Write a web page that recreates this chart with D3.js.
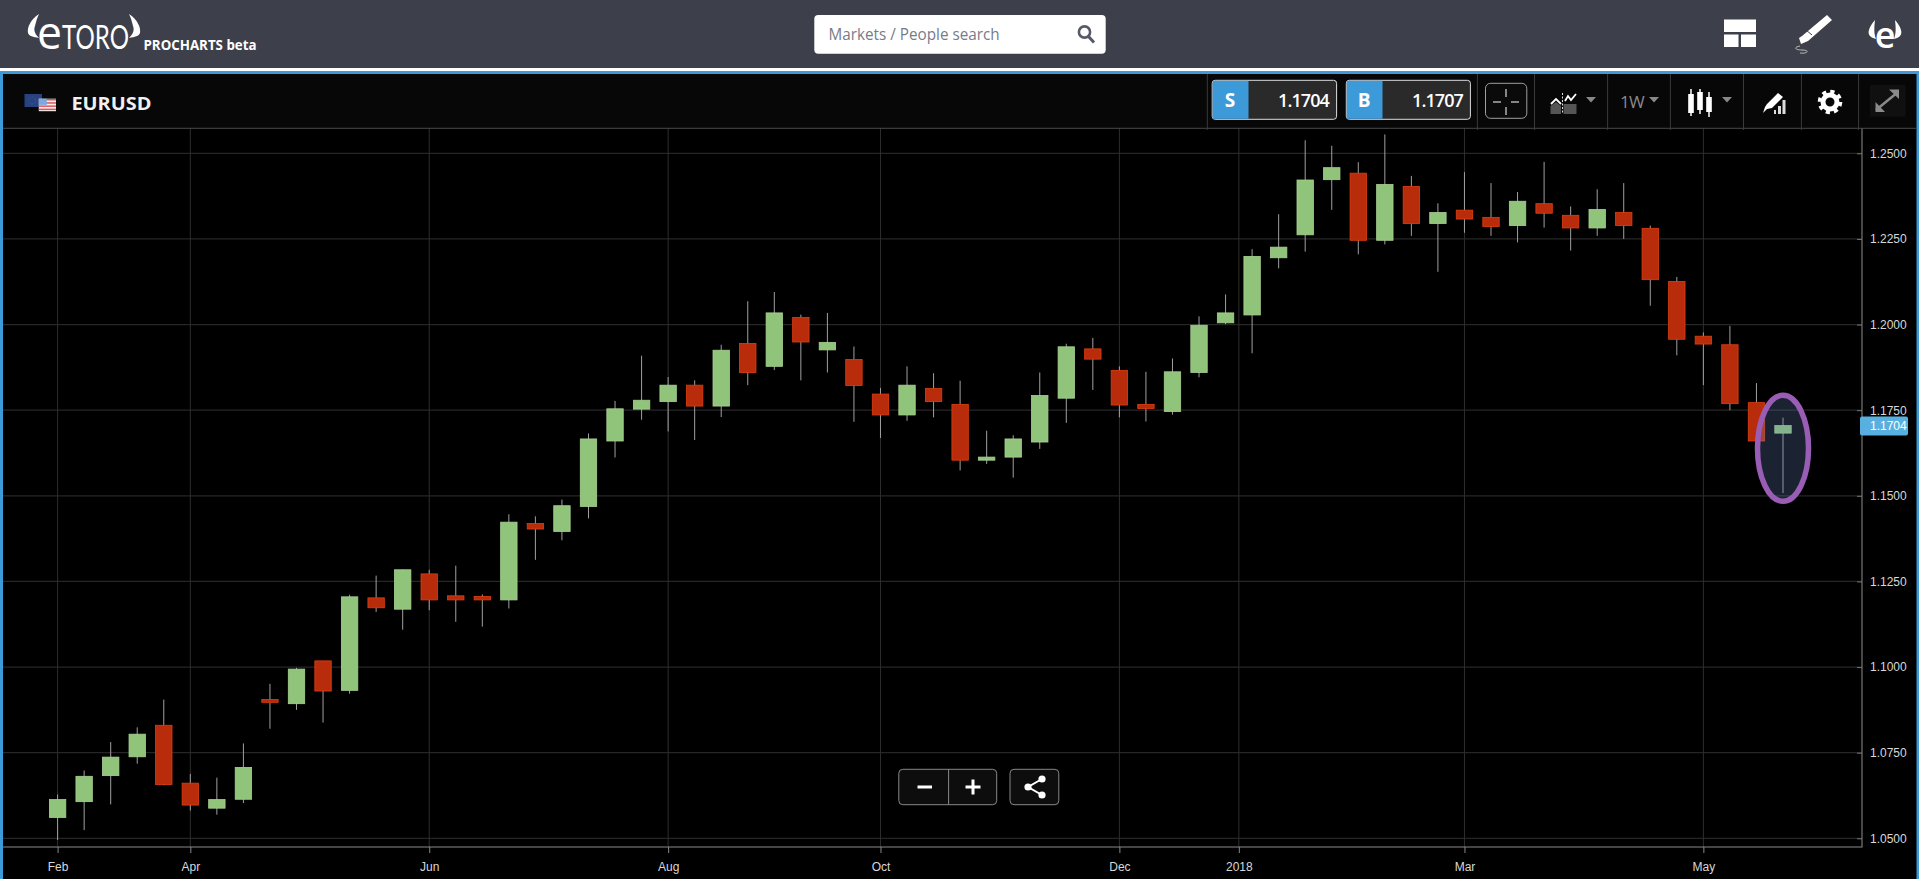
<!DOCTYPE html>
<html>
<head>
<meta charset="utf-8">
<title>EURUSD</title>
<script src="https://cdn.jsdelivr.net/npm/d3@7"></script>
<style>
html,body{margin:0;padding:0;background:#000;overflow:hidden}
svg{display:block}
text{font-family:"Liberation Sans",Arial,sans-serif}
</style>
</head>
<body>
<svg id="c" width="1919" height="879"></svg>
<script>
const opens = [1.0561,1.0607,1.0683,1.0738,1.0830,1.0661,1.0588,1.0614,1.0905,1.0893,1.1018,1.0932,1.1202,1.1169,1.1272,1.1208,1.1206,1.1196,
1.1419,1.1396,1.1469,1.1660,1.1753,1.1775,1.1823,1.1762,1.1945,1.1878,1.2021,1.1926,1.1898,1.1797,1.1736,1.1813,1.1767,1.1604,1.1613,1.1657,1.1785,1.1929,1.1866,1.1767,1.1746,1.1860,1.2005,1.2028,
1.2195,1.2262,1.2423,1.2442,1.2246,1.2403,1.2295,1.2334,1.2313,1.2289,1.2353,1.2319,1.2282,1.2327,1.2281,1.2126,1.1966,1.1941,1.1772,1.1683];
const closes = [1.0613,1.0681,1.0737,1.0804,1.0657,1.0597,1.0613,1.0707,1.0897,1.0994,1.0930,1.1205,1.1173,1.1284,1.1196,1.1196,1.1196,1.1423,
1.1403,1.1471,1.1666,1.1754,1.1779,1.1823,1.1762,1.1925,1.1860,1.2034,1.1949,1.1948,1.1822,1.1736,1.1823,1.1775,1.1604,1.1613,1.1666,1.1793,1.1935,1.1899,1.1765,1.1755,1.1862,1.1998,1.2034,1.2199,
1.2226,1.2422,1.2458,1.2246,1.2409,1.2295,1.2327,1.2308,1.2286,1.2360,1.2325,1.2282,1.2336,1.2289,1.2131,1.1957,1.1943,1.1769,1.1660,1.1705];
const highs = [1.0628,1.0698,1.0781,1.0824,1.0905,1.0688,1.0677,1.0777,1.0951,1.0998,1.1018,1.1211,1.1267,1.1285,1.1284,1.1296,1.1212,1.1446,
1.1440,1.1489,1.1682,1.1777,1.1909,1.1847,1.1837,1.1941,1.2068,1.2095,1.2029,1.2034,1.1936,1.1815,1.1878,1.1858,1.1836,1.1690,1.1677,1.1860,1.1944,1.1961,1.1878,1.1862,1.1901,1.2024,1.2088,1.2220,
1.2322,1.2538,1.2522,1.2474,1.2555,1.2434,1.2354,1.2445,1.2413,1.2387,1.2475,1.2345,1.2395,1.2413,1.2289,1.2139,1.1977,1.1996,1.1829,1.1728];
const lows = [1.0495,1.0524,1.0599,1.0718,1.0655,1.0581,1.0569,1.0603,1.0820,1.0875,1.0838,1.0922,1.1161,1.1109,1.1166,1.1132,1.1118,1.1171,
1.1313,1.1370,1.1434,1.1612,1.1722,1.1688,1.1663,1.1730,1.1823,1.1867,1.1837,1.1860,1.1716,1.1669,1.1719,1.1729,1.1574,1.1593,1.1553,1.1637,1.1713,1.1809,1.1729,1.1717,1.1737,1.1846,1.2001,1.1916,
1.2164,1.2213,1.2335,1.2205,1.2234,1.2259,1.2154,1.2268,1.2259,1.2240,1.2283,1.2216,1.2259,1.2250,1.2055,1.1910,1.1823,1.1750,1.1660,1.1508];
const priceTicks = [1.05,1.075,1.10,1.125,1.15,1.175,1.20,1.225,1.25];
const timeTickPositions = [0,5,14,23,31,40,44.5,53,62];
const timeTickLabels = ["Feb","Apr","Jun","Aug","Oct","Dec","2018","Mar","May"];
const lastPrice = 1.1704, sellPrice = "1.1704", buyPrice = "1.1707";
const instrument = "EURUSD";

const svg = d3.select("#c");
const x = d3.scaleLinear().domain([0,opens.length-1]).range([57.6,1783]);
const y = d3.scaleLinear().domain([1.05,1.25]).range([838.3,153.3]);
const axisX = 1862, axisY = 847, plotTop = 128, plotLeft = 3;

// page chrome
svg.append("rect").attr("width",1919).attr("height",879).attr("fill","#000");
svg.append("rect").attr("width",1919).attr("height",68).attr("fill","#3d404b");
svg.append("rect").attr("y",68).attr("width",1919).attr("height",3).attr("fill","#fff");
svg.append("rect").attr("y",71).attr("width",1919).attr("height",3).attr("fill","#3d9ad9");
svg.append("rect").attr("x",3).attr("y",74).attr("width",1913.5).attr("height",54).attr("fill","#070708");

// grid
const grid = svg.append("g");
grid.selectAll("line.h").data(priceTicks).join("line").attr("class","h")
  .attr("x1",plotLeft).attr("x2",axisX).attr("y1",d=>y(d)).attr("y2",d=>y(d))
  .attr("stroke","#262626").attr("stroke-width",1.3);
grid.selectAll("line.v").data(timeTickPositions).join("line").attr("class","v")
  .attr("x1",d=>x(d)).attr("x2",d=>x(d)).attr("y1",plotTop).attr("y2",axisY)
  .attr("stroke","#2e2e2e").attr("stroke-width",1);

// candles
const bw = 16.4;
const candles = svg.append("g").selectAll("g").data(d3.range(opens.length)).join("g");
candles.append("line")
  .attr("x1",i=>x(i)).attr("x2",i=>x(i))
  .attr("y1",i=>y(highs[i])).attr("y2",i=>y(lows[i]))
  .attr("stroke","#a0a0a0").attr("stroke-width",1);
candles.append("rect")
  .attr("x",i=>x(i)-bw/2).attr("width",bw)
  .attr("y",i=>y(Math.max(opens[i],closes[i])))
  .attr("height",i=>Math.max(1.5,Math.abs(y(opens[i])-y(closes[i]))))
  .attr("fill",i=>closes[i]>=opens[i]?"#90c47a":"#b82c0c")
  .attr("stroke",i=>closes[i]>=opens[i]?"#a9d193":"#e0400f")
  .attr("stroke-width",.8);

// annotation ellipse
const lastI = opens.length-1;
svg.append("ellipse")
  .attr("cx",x(lastI)).attr("cy",448.3).attr("rx",25.5).attr("ry",53)
  .attr("fill","rgba(100,130,190,.27)").attr("stroke","#9a5db5").attr("stroke-width",5.5);

// axes
const gy = svg.append("g").attr("transform",`translate(${axisX},0)`)
  .call(d3.axisRight(y).tickValues(priceTicks).tickSize(-5).tickFormat(d3.format(".4f")));
gy.select(".domain").remove();
gy.selectAll("line").attr("stroke","#777");
gy.selectAll("text").attr("x",8).attr("fill","#d8d8d8").attr("font-size",12)
  .attr("font-family",'"Liberation Sans",Arial,sans-serif').attr("text-anchor","start");
const gx = svg.append("g").attr("transform",`translate(0,${axisY})`)
  .call(d3.axisBottom(x).tickValues(timeTickPositions).tickSize(6).tickPadding(9)
    .tickFormat((d,i)=>timeTickLabels[i]));
gx.select(".domain").remove();
gx.selectAll("line").attr("stroke","#888");
gx.selectAll("text").attr("fill","#d8d8d8").attr("font-size",12)
  .attr("font-family",'"Liberation Sans",Arial,sans-serif');
svg.append("line").attr("x1",plotLeft).attr("x2",axisX+.5).attr("y1",axisY).attr("y2",axisY).attr("stroke","#8a8a8a").attr("stroke-width",1.2);
svg.append("line").attr("x1",axisX).attr("x2",axisX).attr("y1",plotTop).attr("y2",axisY).attr("stroke","#777").attr("stroke-width",1.2);

// price tag
svg.append("rect").attr("x",1860).attr("y",y(lastPrice)-9.5).attr("width",48).attr("height",19).attr("rx",2).attr("fill","#58b0e0");
svg.append("text").attr("x",1870).attr("y",y(lastPrice)).attr("dy",".36em").attr("fill","#fff").attr("font-size",12).text(lastPrice.toFixed(4));

// side borders
svg.append("rect").attr("y",71).attr("width",3).attr("height",808).attr("fill","#3d9ad9");
svg.append("rect").attr("x",1916.5).attr("y",71).attr("width",2.5).attr("height",808).attr("fill","#3d9ad9");

// toolbar line & separators
svg.append("line").attr("x1",3).attr("x2",1916).attr("y1",128.3).attr("y2",128.3).attr("stroke","#4a4a4a");
[1207.3,1477.4,1534.5,1607.6,1670.4,1743.5,1801.4,1858.6].forEach(s=>{
  svg.append("line").attr("x1",s).attr("x2",s).attr("y1",74).attr("y2",130).attr("stroke","#3a3a3a");
});

// logo
const logo = svg.append("g").attr("fill","#fff");
logo.append("path").attr("d","M39,14C30,20 27,28 28,33C29,36 33,37 39,38C36,35 33,31 35,26C36,22 37,18 39,14Z");
logo.append("path").attr("d","M129,14C138,20 141,28 140,33C139,36 135,37 129,38C132,35 135,31 133,26C132,22 131,18 129,14Z");
logo.append("text").attr("x",37).attr("y",48.5).attr("font-size",46).attr("font-weight",400)
  .attr("textLength",25).attr("lengthAdjust","spacingAndGlyphs").style("font-family",'"Open Sans"').text("e");
logo.append("text").attr("x",62).attr("y",48.5).attr("font-size",33).attr("font-weight",400)
  .attr("textLength",67).attr("lengthAdjust","spacingAndGlyphs").style("font-family","Lato").text("TORO");
svg.append("text").attr("x",143.5).attr("y",50).attr("font-size",13.5).attr("font-weight",700)
  .attr("fill","#fff").attr("textLength",113).attr("lengthAdjust","spacingAndGlyphs")
  .style("font-family",'"Open Sans"').text("PROCHARTS beta");

// search box
svg.append("rect").attr("x",814.3).attr("y",15).attr("width",291.4).attr("height",38.7).attr("rx",4).attr("fill","#fff");
svg.append("text").attr("x",828.6).attr("y",39.5).attr("font-size",16).attr("fill","#777c88")
  .attr("textLength",171).attr("lengthAdjust","spacingAndGlyphs").style("font-family",'"Open Sans"').text("Markets / People search");
svg.append("circle").attr("cx",1084.5).attr("cy",32).attr("r",5.6).attr("fill","none").attr("stroke","#555a66").attr("stroke-width",2.6);
svg.append("line").attr("x1",1088.5).attr("y1",36.5).attr("x2",1094).attr("y2",42.5).attr("stroke","#555a66").attr("stroke-width",3);

// header icons
const hi = svg.append("g").attr("fill","#fff");
hi.append("rect").attr("x",1724).attr("y",19.5).attr("width",32).attr("height",12.5);
hi.append("rect").attr("x",1724).attr("y",34.5).attr("width",14.5).attr("height",12.5);
hi.append("rect").attr("x",1741).attr("y",34.5).attr("width",15).attr("height",12.5);
hi.append("path").attr("d","M1827,15L1832,20L1808,41L1801,44L1799,38L1802,36Z");
svg.append("path").attr("d","M1806,30L1812,35").attr("stroke","#3d404b").attr("stroke-width",1);
svg.append("path").attr("d","M1800,46C1794,47 1794,50 1802,50C1810,50 1808,54 1800,53").attr("fill","none").attr("stroke","#bbb").attr("stroke-width",1);
hi.append("path").attr("d","M1875,20C1869,27 1867,33 1870,36C1872,38 1874,38 1876,39C1874,34 1874,28 1875,20Z");
hi.append("path").attr("d","M1895,20C1901,27 1903,33 1900,36C1898,38 1896,38 1894,39C1896,34 1896,28 1895,20Z");
hi.append("text").attr("x",1885).attr("y",48).attr("text-anchor","middle").attr("font-size",36).attr("font-weight",600).style("font-family",'"Open Sans"').text("e");

// title with flags
svg.append("rect").attr("x",24.5).attr("y",94).attr("width",17.5).attr("height",13).attr("fill","#28427f");
svg.append("circle").attr("cx",32).attr("cy",100.5).attr("r",3.5).attr("fill","none").attr("stroke","#3c5a9c").attr("stroke-dasharray","1 1");
svg.append("rect").attr("x",38.8).attr("y",98.7).attr("width",17.2).attr("height",12.5).attr("fill","#f2f0f0");
[0,1,2,3].forEach(k=>svg.append("rect").attr("x",38.8).attr("y",99+k*3.2).attr("width",17.2).attr("height",1.5).attr("fill","#e0555a"));
svg.append("rect").attr("x",38.8).attr("y",98.7).attr("width",8).attr("height",6.2).attr("fill","#7ba8e0");
svg.append("text").attr("x",71.4).attr("y",109.5).attr("font-size",18.5).attr("font-weight",700).attr("fill","#f0f0f0")
  .attr("textLength",80).attr("lengthAdjust","spacingAndGlyphs").style("font-family",'"Open Sans"').text(instrument);

// Sell / Buy buttons
function trade(x0,x1,xb,letter,val,valRight){
  svg.append("rect").attr("x",x0).attr("y",80.3).attr("width",x1-x0).attr("height",39).attr("rx",3).attr("fill","#2a2a2a").attr("stroke","#ddd").attr("stroke-width",1);
  svg.append("rect").attr("x",x0+.5).attr("y",80.8).attr("width",xb-x0).attr("height",38).attr("fill","#3d9ad9");
  svg.append("text").attr("x",(x0+xb)/2).attr("y",107).attr("text-anchor","middle").attr("font-size",19).attr("font-weight",700).attr("fill","#fff").style("font-family",'"Open Sans"').text(letter);
  svg.append("text").attr("x",valRight).attr("y",106.5).attr("text-anchor","end").attr("font-size",18).attr("font-weight",600).attr("letter-spacing",-.9).attr("fill","#fff").style("font-family",'"Open Sans"').text(val);
}
trade(1212.2,1336.6,1248,"S",sellPrice,1329);
trade(1346.3,1470.4,1382,"B",buyPrice,1463);

// crosshair button
svg.append("rect").attr("x",1485.5).attr("y",83.3).attr("width",41.3).attr("height",35).attr("rx",5).attr("fill","#0a0a0a").attr("stroke","#a0a0a0");
[[1493,102,1501,102],[1511,102,1519,102],[1506,89,1506,97],[1506,107,1506,115]].forEach(l=>{
  svg.append("line").attr("x1",l[0]).attr("y1",l[1]).attr("x2",l[2]).attr("y2",l[3]).attr("stroke","#bbb").attr("stroke-width",1.4);
});

// carets
[[1591,"#888"],[1654,"#888"],[1727,"#888"]].forEach(c=>{
  svg.append("path").attr("d",`M${c[0]-5},97L${c[0]+5},97L${c[0]},102.5Z`).attr("fill",c[1]);
});

// indicator icon
svg.append("path").attr("d","M1550.5,114L1550.5,106L1556,102L1561,106L1561,114Z").attr("fill","#555");
svg.append("rect").attr("x",1563.5).attr("y",104).attr("width",13).attr("height",10).attr("fill","#555");
svg.append("path").attr("d","M1551,104L1556,99L1561,104").attr("fill","none").attr("stroke","#fff").attr("stroke-width",1.8);
svg.append("path").attr("d","M1565,101L1568,96L1571,100L1576,94").attr("fill","none").attr("stroke","#fff").attr("stroke-width",1.8);
svg.append("line").attr("x1",1562.5).attr("x2",1562.5).attr("y1",93).attr("y2",114).attr("stroke","#ddd").attr("stroke-dasharray","2 1.5");

// 1W
svg.append("text").attr("x",1620).attr("y",107.5).attr("font-size",17).attr("fill","#8a8a8a").style("font-family",'"Open Sans"').attr("letter-spacing",-.6).text("1W");

// candle icon
[[1691,94,113,89,116],[1700,92,110,89,114],[1709,97,112,92,117]].forEach(c=>{
  svg.append("line").attr("x1",c[0]).attr("x2",c[0]).attr("y1",c[3]).attr("y2",c[4]).attr("stroke","#fff").attr("stroke-width",1.5);
  svg.append("rect").attr("x",c[0]-2.8).attr("y",c[1]).attr("width",5.6).attr("height",c[2]-c[1]).attr("fill","#fff");
});

// draw tools icon
svg.append("path").attr("d","M1778,93L1783,97L1772,108L1767,109L1763,113L1765,107L1767,104Z").attr("fill","#fff");
[[1774,110,2],[1778,106,3],[1782.5,100,3]].forEach(b=>{
  svg.append("rect").attr("x",b[0]).attr("y",b[1]).attr("width",b[2]).attr("height",114-b[1]).attr("fill","#ddd");
});

// gear
svg.append("circle").attr("cx",1830).attr("cy",102).attr("r",7).attr("fill","none").attr("stroke","#fff").attr("stroke-width",5);
svg.append("circle").attr("cx",1830).attr("cy",102).attr("r",10.6).attr("fill","none").attr("stroke","#fff").attr("stroke-width",3.4).attr("stroke-dasharray","4.2 4.12");

// expand
svg.append("rect").attr("x",1870).attr("y",85).attr("width",35.5).attr("height",31.7).attr("fill","#101010");
svg.append("path").attr("d","M1876,110L1898,92").attr("stroke","#8a8a8a").attr("stroke-width",2.5);
svg.append("path").attr("d","M1889,89.5L1899,89.5L1899,99Z").attr("fill","#8a8a8a");
svg.append("path").attr("d","M1875.5,102L1875.5,112L1885,112Z").attr("fill","#8a8a8a");

// zoom & share controls
svg.append("rect").attr("x",898.8).attr("y",769.3).attr("width",97.9).attr("height",35.4).attr("rx",4).attr("fill","#0d0d0d").attr("stroke","#888");
svg.append("line").attr("x1",948.6).attr("x2",948.6).attr("y1",769.3).attr("y2",804.7).attr("stroke","#888");
svg.append("rect").attr("x",1010).attr("y",769.3).attr("width",48.8).attr("height",35.4).attr("rx",4).attr("fill","#0d0d0d").attr("stroke","#888");
svg.append("rect").attr("x",917.5).attr("y",785.5).attr("width",14.5).attr("height",3).attr("fill","#fff");
svg.append("rect").attr("x",965.5).attr("y",785.5).attr("width",15).attr("height",3).attr("fill","#fff");
svg.append("rect").attr("x",971.5).attr("y",779.5).attr("width",3).attr("height",15).attr("fill","#fff");
svg.append("path").attr("d","M1042,779L1028,787L1042,795").attr("fill","none").attr("stroke","#fff").attr("stroke-width",2);
[[1042,779],[1028,787],[1042,795]].forEach(p=>svg.append("circle").attr("cx",p[0]).attr("cy",p[1]).attr("r",3.6).attr("fill","#fff"));
</script>
</body>
</html>
